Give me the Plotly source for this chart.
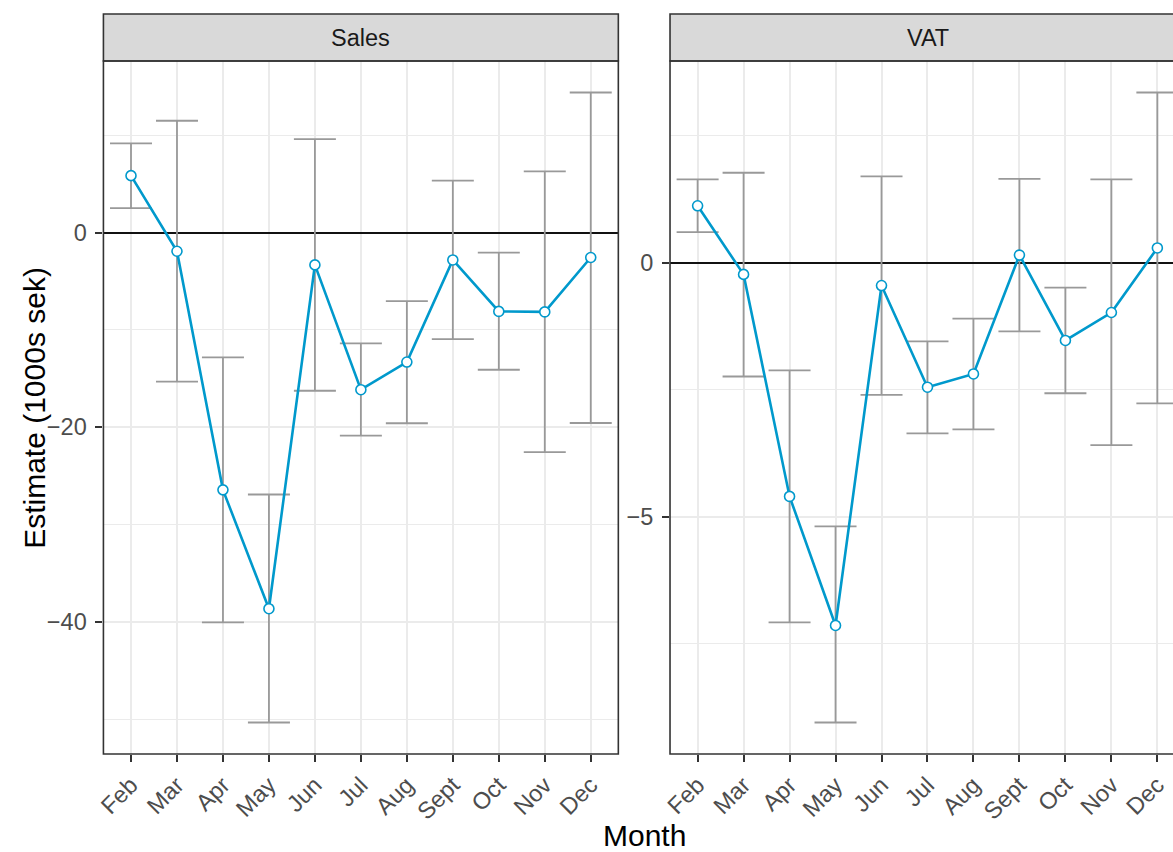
import plotly.graph_objects as go

# Monthly estimates with confidence intervals (1000s sek)
months = ["Feb", "Mar", "Apr", "May", "Jun", "Jul", "Aug", "Sept", "Oct", "Nov", "Dec"]

sales_est = [5.85, -1.92, -26.43, -38.64, -3.32, -16.14, -13.30, -2.81, -8.10, -8.15, -2.56]
sales_lo = [2.52, -15.32, -40.04, -50.33, -16.25, -20.86, -19.59, -10.94, -14.09, -22.56, -19.56]
sales_hi = [9.16, 11.49, -12.82, -26.91, 9.60, -11.38, -7.05, 5.33, -2.05, 6.29, 14.39]

vat_est = [1.12, -0.23, -4.60, -7.14, -0.45, -2.45, -2.19, 0.15, -1.53, -0.98, 0.29]
vat_lo = [0.60, -2.24, -7.08, -9.05, -2.60, -3.36, -3.28, -1.35, -2.57, -3.59, -2.77]
vat_hi = [1.64, 1.77, -2.12, -5.19, 1.70, -1.55, -1.10, 1.65, -0.49, 1.64, 3.35]

W, H = 1173, 852
FONT = "Liberation Sans, Arial, Helvetica, sans-serif"
BLUE = "#0099CC"
ERR = "#999999"
DARK = "#333333"
GRID = "#EBEBEB"
TICK_SIZE = 23.5
TITLE_SIZE = 30


def fx(px):
    return px / W


def fy(px):
    return 1 - px / H


def padded(lo, hi):
    a, b = min(lo), max(hi)
    span = b - a
    return [a - 0.05 * span, b + 0.05 * span]


fig = go.Figure()

panels = [
    ("x", "y", sales_est, sales_lo, sales_hi),
    ("x2", "y2", vat_est, vat_lo, vat_hi),
]

for xa, ya, est, lo, hi in panels:
    # confidence interval bars
    fig.add_trace(go.Scatter(
        x=months, y=est, xaxis=xa, yaxis=ya, mode="markers",
        marker=dict(size=1, opacity=0),
        error_y=dict(type="data", symmetric=False,
                     array=[h - e for h, e in zip(hi, est)],
                     arrayminus=[e - l for e, l in zip(est, lo)],
                     color=ERR, thickness=1.8, width=21),
        hoverinfo="skip", showlegend=False,
    ))
    # point estimates
    fig.add_trace(go.Scatter(
        x=months, y=est, xaxis=xa, yaxis=ya, mode="lines+markers",
        line=dict(color=BLUE, width=2.6),
        marker=dict(size=10, color="white", line=dict(color=BLUE, width=1.6)),
        showlegend=False,
    ))

y_dom = [fy(754), fy(61)]

xcommon = dict(
    type="category", categoryorder="array", categoryarray=months,
    showgrid=True, gridcolor=GRID, gridwidth=1.6,
    ticks="outside", ticklen=7, tickwidth=1.6, tickcolor=DARK,
    tickangle=-45, tickfont=dict(family=FONT, size=TICK_SIZE, color="#4D4D4D"),
    showline=False, zeroline=False, fixedrange=True,
)
ycommon = dict(
    showgrid=True, gridcolor=GRID, gridwidth=1.6,
    minor=dict(showgrid=True, gridcolor=GRID, gridwidth=0.9),
    ticks="outside", ticklen=7, tickwidth=1.6, tickcolor=DARK,
    tickfont=dict(family=FONT, size=TICK_SIZE, color="#4D4D4D"),
    ticklabelstandoff=4,
    showline=False, zeroline=True, zerolinecolor="#111111", zerolinewidth=1.6,
    tick0=0, domain=y_dom, fixedrange=True,
)

fig.update_layout(
    width=W, height=H,
    margin=dict(l=0, r=0, t=0, b=0),
    paper_bgcolor="white", plot_bgcolor="white",
    font=dict(family=FONT),
    xaxis=dict(xcommon, domain=[fx(97), fx(615)], range=[-0.6, 10.6], anchor="y"),
    xaxis2=dict(xcommon, domain=[fx(667), 1.0], range=[-0.6, 10.34], anchor="y2"),
    yaxis=dict(ycommon, range=padded(sales_lo, sales_hi), dtick=20,
               minor=dict(ycommon["minor"], dtick=10), anchor="x"),
    yaxis2=dict(ycommon, range=padded(vat_lo, vat_hi), dtick=5,
                minor=dict(ycommon["minor"], dtick=2.5), anchor="x2"),
)

# facet strips and panel borders
strips = [("x domain", 1.0, "Sales"), ("x2 domain", 519 / 506, "VAT")]
for i, (xref, right, label) in enumerate(strips):
    yref = "y domain" if i == 0 else "y2 domain"
    fig.add_shape(type="rect", xref=xref, yref="paper", x0=0, x1=right,
                  y0=fy(61), y1=fy(14), fillcolor="#D9D9D9",
                  line=dict(color=DARK, width=1.6), layer="above")
    fig.add_shape(type="rect", xref=xref, yref=yref, x0=0, x1=right, y0=0, y1=1,
                  line=dict(color=DARK, width=1.6), layer="above")
    fig.add_annotation(xref=xref, yref="paper", x=right / 2, y=fy(37.5),
                       text=label, showarrow=False,
                       font=dict(family=FONT, size=TICK_SIZE, color="#1A1A1A"),
                       xanchor="center", yanchor="middle")

fig.add_annotation(xref="paper", yref="paper", x=fx(641), y=fy(835), text="Month",
                   showarrow=False, font=dict(family=FONT, size=TITLE_SIZE, color="black"),
                   xanchor="center", yanchor="middle")
fig.add_annotation(xref="paper", yref="paper", x=fx(27), y=fy(408),
                   text="Estimate (1000s sek)", textangle=-90, showarrow=False,
                   font=dict(family=FONT, size=TITLE_SIZE, color="black"),
                   xanchor="center", yanchor="middle")

fig.write_html("out.html")
